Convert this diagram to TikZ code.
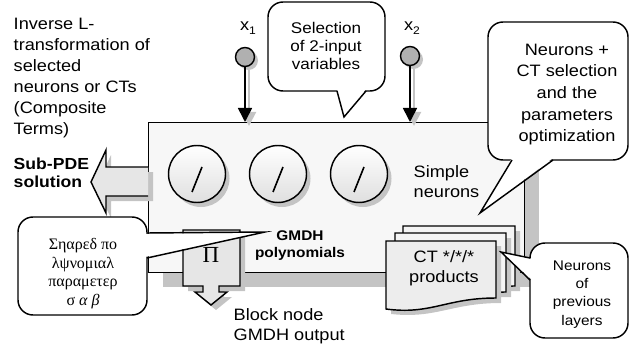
\documentclass[tikz,border=0pt]{standalone}
\usepackage{fontspec}
\setmainfont{Liberation Sans}[FakeStretch=1.1]
\newfontfamily\grk{Liberation Serif}
\usetikzlibrary{arrows.meta}
\definecolor{boxfill}{HTML}{F7F7F7}
\definecolor{shad}{HTML}{C4C4C4}
\definecolor{arrfill}{HTML}{E6E6E6}
\definecolor{pinfill}{HTML}{B0B0B0}
\definecolor{docfront}{HTML}{EDEDED}
\definecolor{docback}{HTML}{F4F4F4}
\begin{document}
\begin{tikzpicture}[x=1pt,y=-1pt,line width=1.45pt,
  txt/.style={inner sep=0pt,font=\fontsize{16.5}{21}\selectfont},
  neuron/.style={circle,draw,minimum size=57pt,inner sep=0pt,top color=white,bottom color=gray!25},
  pin/.style={circle,draw,fill=pinfill,minimum size=19pt,inner sep=0pt},
  callout/.style={draw,fill=white,rounded corners=15pt},
  inarrow/.style={-{Triangle[width=14pt,length=14pt]},line width=1.6pt},
  shadarrow/.style={-{Triangle[width=14pt,length=14pt]},line width=2pt,draw=shad,color=shad}
]
\useasboundingbox (0,0) rectangle (630,345);

% main box with shadow
\fill[shad] (163,137) rectangle (539,287);
\node[draw,fill=boxfill,minimum width=376pt,minimum height=150pt,inner sep=0pt,anchor=north west] (box) at (148,122) {};

% neurons
\foreach \i/\x in {1/197,2/278,3/359}{
  \fill[shad] (\x+4,178.5) circle (28.5);
  \node[neuron] (n\i) at (\x,174) {};
  \draw[line width=1.6pt] ([shift={(5,-7)}]n\i.center) -- ([shift={(-5,18)}]n\i.center);
}

% left block arrow (Sub-PDE solution)
\fill[shad] (153,172) -- (111,172) -- (111,155) -- (96,187) -- (111,218) -- (111,201) -- (153,201) -- cycle;
\path[fill=arrfill,draw] (148,167) -- (106,167) -- (106,150) -- (91,182) -- (106,213) -- (106,196) -- (148,196);

% Pi block arrow
\fill[shad] (188,235) -- (245,235) -- (245,291) -- (224,291) -- (224,297) -- (232,297) -- (216,310) -- (200,297) -- (208,297) -- (208,291) -- (188,291) -- cycle;
\path[fill=arrfill,draw] (183,230) -- (240,230) -- (240,286) -- (219,286) -- (219,292) -- (227,292) -- (211,305) -- (195,292) -- (203,292) -- (203,286) -- (183,286) -- cycle;
\node[inner sep=0pt,font=\grk\fontsize{23}{23}\selectfont] (pi) at (211,255) {Π};

% shared polynomial callout
\draw[callout] (18,217) rectangle (147,315);
\fill[white] (145,234) -- (265,232) -- (145,257) -- cycle;
\draw (147,233) -- (265,232) -- (147,258);
\node[inner sep=0pt,anchor=north,align=center,font=\grk\fontsize{16}{18.5}\selectfont] (shared) at (83,238)
  {Σηαρεδ πο\\λψνομιαλ\\παραμετερ\\σ \textit{α β}};

% CT documents
\foreach \L/\T/\R/\B/\c in {403/226/515/297/docback,395/233/506/303/docback,386/241/496/309/docfront}{
  \fill[shad] (\L+5,\T+5) -- (\R+5,\T+5) -- (\R+5,\B-6) .. controls (\R-45,\B-6) and (\L+50,\B+10) .. (\L+5,\B+5) -- cycle;
  \path[fill=\c,draw] (\L,\T) -- (\R,\T) -- (\R,\B-11) .. controls (\R-50,\B-11) and (\L+45,\B+6) .. (\L,\B) -- cycle;
}
\node[txt,anchor=north,align=center,font=\fontsize{16.5}{20}\selectfont] (ct) at (444,250) {CT */*/*\\products};

% neurons of previous layers callout
\draw[callout] (530,243) rectangle (628,338);
\fill[white] (532,259) -- (501,252) -- (532,280) -- cycle;
\draw (530,258) -- (501,252) -- (530,280);
\node[inner sep=0pt,anchor=north,align=center,font=\fontsize{14}{18.3}\selectfont] (prev) at (582,260) {Neurons\\of\\previous\\layers};

% neurons + CT selection callout
\draw[callout] (488,22) rectangle (628,160);
\fill[white] (512,158) -- (480,213) -- (553,158) -- cycle;
\draw (512,160) -- (480,213) -- (553,160);
\node[inner sep=0pt,anchor=north,align=center,font=\fontsize{16.5}{21.7}\selectfont] (sel) at (567,43) {Neurons +\\CT selection\\and the\\parameters\\optimization};

% selection of 2-input variables callout
\draw[callout] (268,2) rectangle (385,91);
\fill[white] (337,89) -- (344,117) -- (366,89) -- cycle;
\draw (337,91) -- (344,117) -- (366,91);
\node[inner sep=0pt,anchor=north,align=center,font=\fontsize{15.5}{18}\selectfont] (var) at (326,22) {Selection\\of 2-input\\variables};

% inputs
\fill[shad] (248.5,60.5) circle (9.5);
\fill[shad] (413.5,59.5) circle (9.5);
\node[pin] (p1) at (245,57) {};
\node[pin] (p2) at (410,56) {};
\draw[shadarrow] ([shift={(4,3)}]p1.south) -- ([shift={(4,4)}]p1 |- box.north);
\draw[shadarrow] ([shift={(4,3)}]p2.south) -- ([shift={(4,4)}]p2 |- box.north);
\draw[inarrow] (p1) -- (p1 |- box.north);
\draw[inarrow] (p2) -- (p2 |- box.north);
\node[txt] (x1) at (248,28) {x\raisebox{-4pt}{\fontsize{11}{11}\selectfont 1}};
\node[txt] (x2) at (412,28) {x\raisebox{-4pt}{\fontsize{11}{11}\selectfont 2}};

% free texts
\node[txt,anchor=north west,align=left] (inv) at (13,17) {Inverse L-\\transformation of\\selected\\neurons or CTs\\(Composite\\Terms)};
\node[inner sep=0pt,anchor=north west,align=left,font=\bfseries\fontsize{16}{18.5}\selectfont] (sub) at (13,157) {Sub-PDE\\solution};
\node[inner sep=0pt,anchor=north,align=center,font=\bfseries\fontsize{14}{17}\selectfont] (gmdh) at (300,230) {GMDH\\polynomials};
\node[txt,anchor=north west,align=left,font=\fontsize{16.5}{19.5}\selectfont] (blk) at (233,308) {Block node\\GMDH output};
\node[txt,anchor=north west,align=left,font=\fontsize{16.5}{20}\selectfont] (simple) at (413,165) {Simple\\neurons};
\end{tikzpicture}
\end{document}
